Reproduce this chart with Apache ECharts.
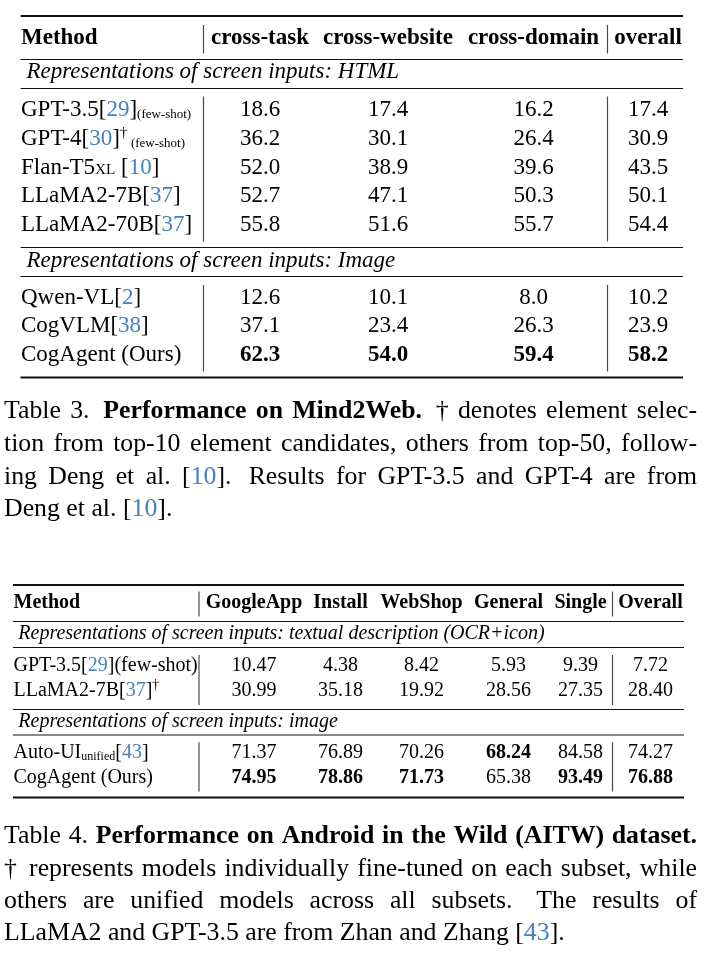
<!DOCTYPE html>
<html><head><meta charset="utf-8">
<script src="https://cdn.jsdelivr.net/npm/echarts@6/dist/echarts.min.js"></script>
<style>html,body{margin:0;padding:0;background:#fff}#c{width:716px;height:970px}</style>
</head><body><div id="c"></div>
<script>
// ===== Table 3 data (Mind2Web) =====
const t3Columns = ['cross-task', 'cross-website', 'cross-domain', 'overall'];
const t3GroupTitles = ['Representations of screen inputs: HTML', 'Representations of screen inputs: Image'];
const t3GroupSizes = [5, 3];
const t3Methods = [
  'GPT-3.5{c|29}{s|(few-shot)}',
  'GPT-4{c|30}{sup|†}{s| (few-shot)}',
  'Flan-T5{sc|XL} {c|10}',
  'LLaMA2-7B{c|37}',
  'LLaMA2-70B{c|37}',
  'Qwen-VL{c|2}',
  'CogVLM{c|38}',
  'CogAgent (Ours)'
];
const t3CrossTask    = [18.6, 36.2, 52.0, 52.7, 55.8, 12.6, 37.1, 62.3];
const t3CrossWebsite = [17.4, 30.1, 38.9, 47.1, 51.6, 10.1, 23.4, 54.0];
const t3CrossDomain  = [16.2, 26.4, 39.6, 50.3, 55.7, 8.0, 26.3, 59.4];
const t3Overall      = [17.4, 30.9, 43.5, 50.1, 54.4, 10.2, 23.9, 58.2];
const t3Caption = [
  'Table 3.  {b|Performance on Mind2Web.}  † denotes element selec-',
  'tion from top-10 element candidates, others from top-50, follow-',
  'ing Deng et al. {c|10}.  Results for GPT-3.5 and GPT-4 are from',
  'Deng et al. {c|10}.'
];

// ===== Table 4 data (AITW) =====
const t4Columns = ['GoogleApp', 'Install', 'WebShop', 'General', 'Single', 'Overall'];
const t4GroupTitles = ['Representations of screen inputs: textual description (OCR+icon)', 'Representations of screen inputs: image'];
const t4GroupSizes = [2, 2];
const t4Methods = [
  'GPT-3.5{c|29}(few-shot)',
  'LLaMA2-7B{c|37}{sup|†}',
  'Auto-UI{sub|unified}{c|43}',
  'CogAgent (Ours)'
];
const t4GoogleApp = [10.47, 30.99, 71.37, 74.95];
const t4Install   = [4.38, 35.18, 76.89, 78.86];
const t4WebShop   = [8.42, 19.92, 70.26, 71.73];
const t4General   = [5.93, 28.56, 68.24, 65.38];
const t4Single    = [9.39, 27.35, 84.58, 93.49];
const t4Overall   = [7.72, 28.40, 74.27, 76.88];
const t4Caption = [
  'Table 4. {b|Performance on Android in the Wild (AITW) dataset.}',
  '†  represents models individually fine-tuned on each subset, while',
  'others are unified models across all subsets.  The results of',
  'LLaMA2 and GPT-3.5 are from Zhan and Zhang {c|43}.'
];

// ===== rendering helpers =====
const FONT = '"Liberation Serif", "Times New Roman", Times, serif';
const CITE = '#4581c1';
const INK = '#000';
const mctx = document.createElement('canvas').getContext('2d');
function measure(t, r) {
  mctx.font = (r.fstyle || 'normal') + ' ' + (r.weight || 'normal') + ' ' + r.size + 'px ' + FONT;
  return mctx.measureText(t).width;
}
function parse(str, base) {
  const runs = [];
  const re = /\{(\w+)\|([^}]*)\}/g;
  let last = 0, m;
  const mk = (text, o) => Object.assign({ text, size: base.size, weight: base.weight || 'normal', fstyle: base.fstyle || 'normal', color: INK, dy: 0 }, o || {});
  while ((m = re.exec(str))) {
    if (m.index > last) runs.push(mk(str.slice(last, m.index)));
    const tag = m[1], t = m[2], s = base.size;
    if (tag === 'c') { runs.push(mk('[')); runs.push(mk(t, { color: CITE })); runs.push(mk(']')); }
    else if (tag === 's') runs.push(mk(t, { size: s * 0.565, dy: 1 }));
    else if (tag === 'sc') runs.push(mk(t, { size: s * 0.66 }));
    else if (tag === 'sup') runs.push(mk(t, { size: s * 0.68, dy: -0.36 * s }));
    else if (tag === 'sub') runs.push(mk(t, { size: s * 0.6, dy: 1.5 }));
    else if (tag === 'b') runs.push(mk(t, { weight: 'bold' }));
    else if (tag === 'i') runs.push(mk(t, { fstyle: 'italic' }));
    last = re.lastIndex;
  }
  if (last < str.length) runs.push(mk(str.slice(last)));
  return runs;
}
function textEl(els, x, yMid, r, mainSize) {
  const base = yMid + 0.34 * mainSize;
  els.push({
    type: 'text', silent: true, x: x, y: base + r.dy - 0.34 * r.size,
    style: {
      text: r.text, fill: r.color, fontSize: r.size, fontFamily: FONT,
      fontWeight: r.weight, fontStyle: r.fstyle,
      align: 'left', verticalAlign: 'middle', textAlign: 'left', textVerticalAlign: 'middle'
    }
  });
}
function drawRuns(els, x, yMid, runs, align, mainSize) {
  const ws = runs.map(r => measure(r.text, r));
  const total = ws.reduce((a, b) => a + b, 0);
  let cx = align === 'center' ? x - total / 2 : x;
  runs.forEach((r, i) => { textEl(els, cx, yMid, r, mainSize); cx += ws[i]; });
}
function drawParagraphLine(els, x0, x1, yMid, markup, base, justify) {
  const runs = parse(markup, base);
  // split into words preserving run styles
  const words = []; const gaps = [];
  let cur = [], pendingSpaces = 0;
  runs.forEach(r => {
    let buf = '';
    for (const ch of r.text) {
      if (ch === ' ') {
        if (buf) { cur.push(Object.assign({}, r, { text: buf })); buf = ''; }
        if (cur.length) { words.push(cur); cur = []; pendingSpaces = 0; }
        pendingSpaces++;
        if (words.length && gaps.length < words.length) gaps.push(0);
        if (gaps.length) gaps[gaps.length - 1] = pendingSpaces;
      } else buf += ch;
    }
    if (buf) cur.push(Object.assign({}, r, { text: buf }));
  });
  if (cur.length) words.push(cur);
  const wWidths = words.map(w => w.reduce((a, r) => a + measure(r.text, r), 0));
  const sumW = wWidths.reduce((a, b) => a + b, 0);
  const weights = gaps.slice(0, words.length - 1).map(g => (g > 1 ? 1.5 : 1));
  const sumWt = weights.reduce((a, b) => a + b, 0);
  const spaceW = measure(' ', { size: base.size });
  const unit = justify && sumWt ? (x1 - x0 - sumW) / sumWt : spaceW;
  let cx = x0;
  words.forEach((w, i) => {
    w.forEach(r => { textEl(els, cx, yMid, r, base.size); cx += measure(r.text, r); });
    if (i < weights.length) cx += unit * (justify ? weights[i] : weights[i]);
  });
}
function hline(els, x1, x2, y, lw, color) {
  els.push({ type: 'line', silent: true, shape: { x1, y1: y, x2, y2: y }, style: { stroke: color || '#111', lineWidth: lw } });
}
function vline(els, x, y1, y2) {
  els.push({ type: 'line', silent: true, shape: { x1: x, y1, x2: x, y2 }, style: { stroke: '#4a4a4a', lineWidth: 1.2 } });
}

function drawTable(els, L, columns, groupTitles, groupSizes, methods, valueCols, digits) {
  const fs = L.fs;
  hline(els, L.left, L.right, L.topRule, 2);
  drawRuns(els, L.methodX, L.headerY, [{ text: 'Method', size: fs, weight: 'bold', fstyle: 'normal', color: INK, dy: 0 }], 'left', fs);
  columns.forEach((c, j) => drawRuns(els, L.cols[j], L.headerY, [{ text: c, size: fs, weight: 'bold', fstyle: 'normal', color: INK, dy: 0 }], 'center', fs));
  L.vx.forEach(x => vline(els, x, L.headerV[0], L.headerV[1]));
  hline(els, L.left, L.right, L.headerRule, 1.2);
  const maxes = valueCols.map(col => Math.max.apply(null, col));
  let idx = 0;
  L.groups.forEach((g, gi) => {
    if (g.topRuleY) hline(els, L.left, L.right, g.topRuleY, 1.2);
    drawRuns(els, L.titleX, g.titleY, [{ text: groupTitles[gi], size: fs, weight: 'normal', fstyle: 'italic', color: INK, dy: 0 }], 'left', fs);
    hline(els, L.left, L.right, g.ruleY, 1.2);
    L.vx.forEach(x => vline(els, x, g.v[0], g.v[1]));
    for (let k = 0; k < groupSizes[gi]; k++, idx++) {
      const y = g.firstRow + k * L.rowStep;
      drawRuns(els, L.methodX, y, parse(methods[idx], { size: fs }), 'left', fs);
      valueCols.forEach((col, j) => {
        const v = col[idx];
        drawRuns(els, L.cols[j], y, [{ text: v.toFixed(digits), size: fs, weight: v === maxes[j] ? 'bold' : 'normal', fstyle: 'normal', color: INK, dy: 0 }], 'center', fs);
      });
    }
  });
  hline(els, L.left, L.right, L.bottomRule, 2);
}

const L3 = {
  fs: 23, left: 20.5, right: 683, methodX: 21, cols: [260, 388, 533.5, 648], vx: [203.5, 607.5],
  topRule: 16, headerY: 38, headerV: [25, 53.5], headerRule: 59.5, titleX: 26.5, rowStep: 28.8,
  groups: [
    { titleY: 72, ruleY: 88.5, firstRow: 110, v: [96.5, 241.5] },
    { topRuleY: 247.5, titleY: 261, ruleY: 276.5, firstRow: 297.5, v: [285, 371.5] }
  ],
  bottomRule: 377.5
};
const L4 = {
  fs: 20, left: 13, right: 684, methodX: 13.5, cols: [254, 340.5, 421.5, 508.5, 580.5, 650.5], vx: [199, 612.5],
  topRule: 585, headerY: 603.3, headerV: [591.5, 616.5], headerRule: 621.5, titleX: 18.3, rowStep: 25.2,
  groups: [
    { titleY: 633.3, ruleY: 647.5, firstRow: 665.7, v: [655, 705] },
    { topRuleY: 709.5, titleY: 721.7, ruleY: 735, firstRow: 752.7, v: [742.3, 791.5] }
  ],
  bottomRule: 797.5
};

const els = [];
drawTable(els, L3, t3Columns, t3GroupTitles, t3GroupSizes, t3Methods, [t3CrossTask, t3CrossWebsite, t3CrossDomain, t3Overall], 1);
drawTable(els, L4, t4Columns, t4GroupTitles, t4GroupSizes, t4Methods, [t4GoogleApp, t4Install, t4WebShop, t4General, t4Single, t4Overall], 2);

const capFs = 25.8;
const cap3Y = [411.7, 444.3, 477.5, 509.5];
const cap4Y = [836.7, 869.7, 901.7, 933.3];
t3Caption.forEach((line, i) => drawParagraphLine(els, 4, 697, cap3Y[i], line, { size: capFs }, i < t3Caption.length - 1));
t4Caption.forEach((line, i) => drawParagraphLine(els, 4, 697, cap4Y[i], line, { size: capFs }, i < t4Caption.length - 1));

const chart = echarts.init(document.getElementById('c'), null, { renderer: 'canvas' });
chart.setOption({ animation: false, backgroundColor: '#fff', graphic: { elements: els } });
</script>
</body></html>
